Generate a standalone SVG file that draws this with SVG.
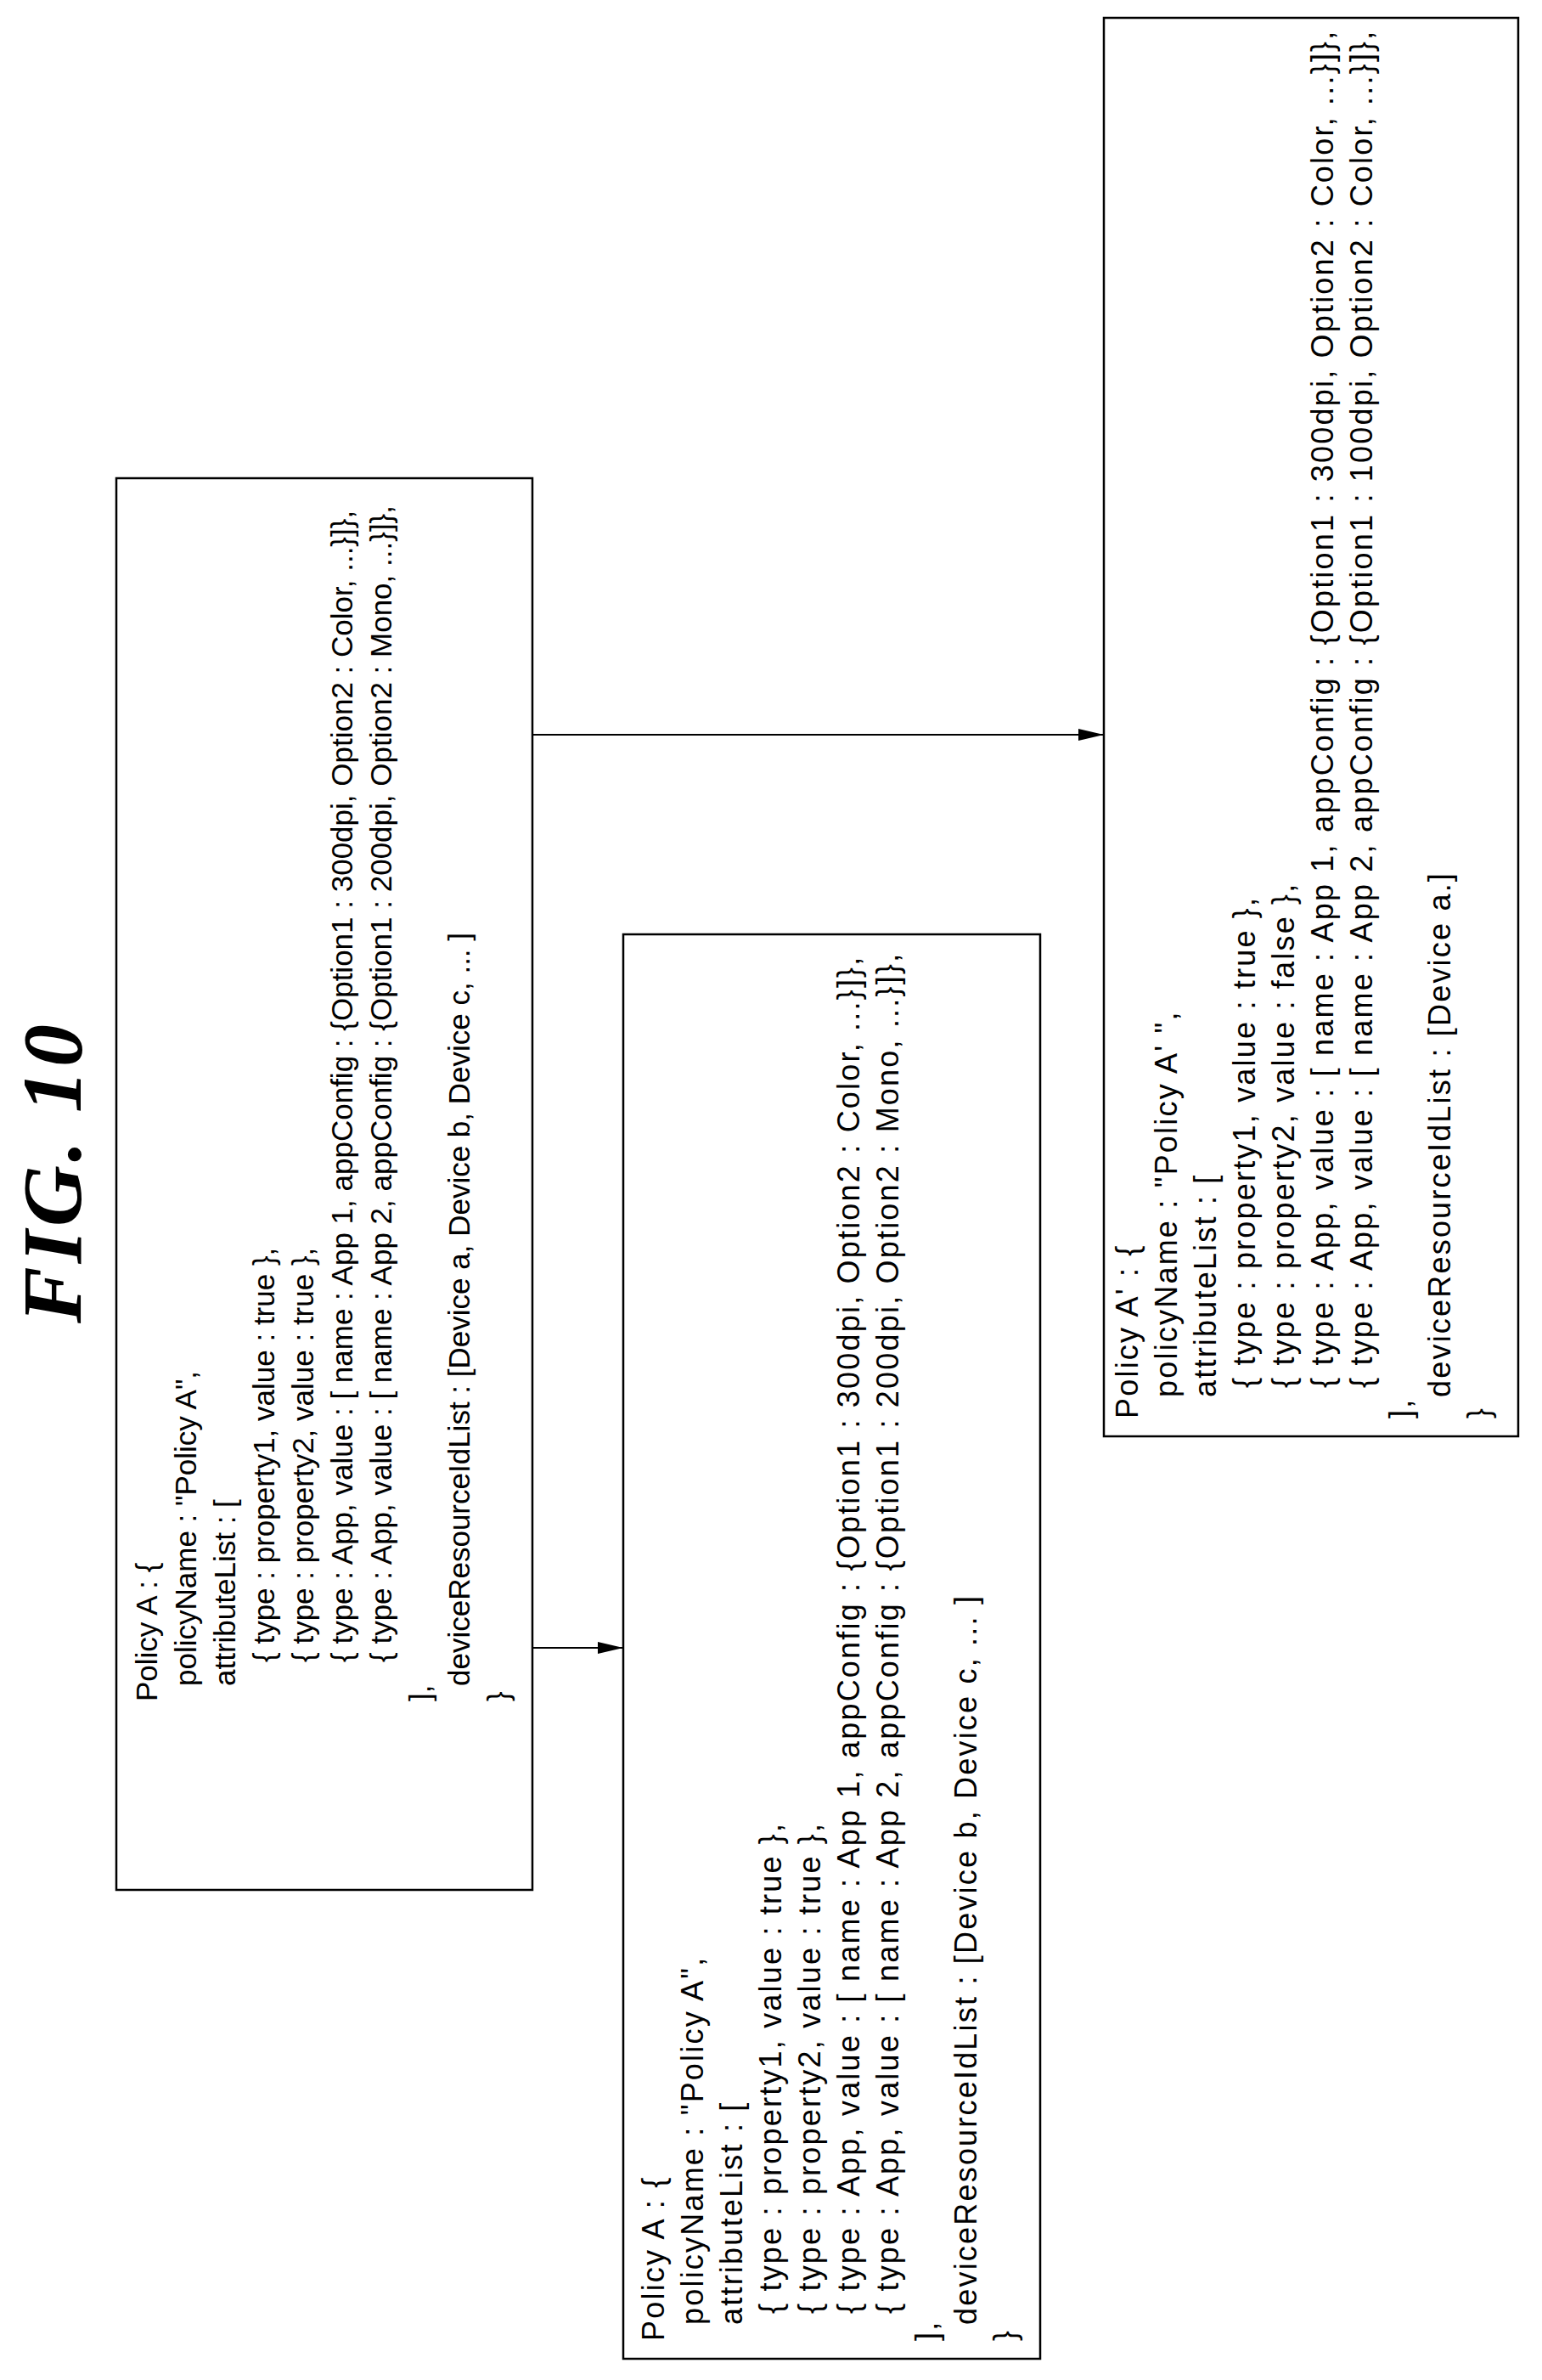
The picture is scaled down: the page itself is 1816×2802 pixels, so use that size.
<svg xmlns="http://www.w3.org/2000/svg" width="1816" height="2802" viewBox="0 0 1816 2802">
<style>
.b{fill:#fff;stroke:#000;stroke-width:2.5}
.t{font-family:"Liberation Sans",Arial,sans-serif;font-size:35px;fill:#000}
.w{font-size:36px;letter-spacing:2.2px}
.c{stroke:#000;stroke-width:2;fill:none}
</style>
<defs><marker id="ah" markerWidth="30" markerHeight="14" refX="30" refY="7" orient="auto" markerUnits="userSpaceOnUse"><path d="M0,0 L30,7 L0,14 Z" fill="#000"/></marker></defs>
<text x="0" y="0" transform="translate(95,1380) rotate(-90)" text-anchor="middle" font-family="Liberation Serif,serif" font-style="italic" font-weight="bold" font-size="100" letter-spacing="4">FIG. 10</text>
<g id="box1">
<rect class="b" x="137" y="563" width="490" height="1662"/>
<g class="t" transform="translate(137,2225) rotate(-90)">
<text x="222" y="48">Policy A : {</text>
<text x="240" y="94">policyName : "Policy A",</text>
<text x="240" y="140">attributeList : [</text>
<text x="268" y="186">{ type : property1, value : true },</text>
<text x="268" y="232">{ type : property2, value : true },</text>
<text x="268" y="278">{ type : App, value : [ name : App 1, appConfig : {Option1 : 300dpi, Option2 : Color, ...}]},</text>
<text x="268" y="324">{ type : App, value : [ name : App 2, appConfig : {Option1 : 200dpi, Option2 : Mono, ...}]},</text>
<text x="222" y="370">],</text>
<text x="240" y="416">deviceResourceIdList : [Device a, Device b, Device c, ... ]</text>
<text x="222" y="462">}</text>
</g>
</g>
<g id="box2">
<rect class="b" x="734" y="1100" width="491" height="1677"/>
<g class="t w" transform="translate(734,2777) rotate(-90)">
<text x="21" y="48">Policy A : {</text>
<text x="40" y="94">policyName : "Policy A",</text>
<text x="40" y="140">attributeList : [</text>
<text x="53" y="186">{ type : property1, value : true },</text>
<text x="53" y="232">{ type : property2, value : true },</text>
<text x="53" y="278">{ type : App, value : [ name : App 1, appConfig : {Option1 : 300dpi, Option2 : Color, ...}]},</text>
<text x="53" y="324">{ type : App, value : [ name : App 2, appConfig : {Option1 : 200dpi, Option2 : Mono, ...}]},</text>
<text x="21" y="370">],</text>
<text x="40" y="416">deviceResourceIdList : [Device b, Device c, ... ]</text>
<text x="21" y="462">}</text>
</g>
</g>
<g id="box3">
<rect class="b" x="1300" y="21" width="488" height="1670"/>
<g class="t w" transform="translate(1300,1691) rotate(-90)">
<text x="21" y="40">Policy A' : {</text>
<text x="46" y="86">policyName : "Policy A' ",</text>
<text x="46" y="132">attributeList : [</text>
<text x="57" y="178">{ type : property1, value : true },</text>
<text x="57" y="224">{ type : property2, value : false },</text>
<text x="57" y="270">{ type : App, value : [ name : App 1, appConfig : {Option1 : 300dpi, Option2 : Color, ...}]},</text>
<text x="57" y="316">{ type : App, value : [ name : App 2, appConfig : {Option1 : 100dpi, Option2 : Color, ...}]},</text>
<text x="21" y="362">],</text>
<text x="46" y="408">deviceResourceIdList : [Device a.]</text>
<text x="21" y="454">}</text>
</g>
</g>
<g id="connectors">
<line class="c" x1="627" y1="1940" x2="734" y2="1940" marker-end="url(#ah)"/>
<line class="c" x1="627" y1="865" x2="1300" y2="865" marker-end="url(#ah)"/>
</g>
</svg>
